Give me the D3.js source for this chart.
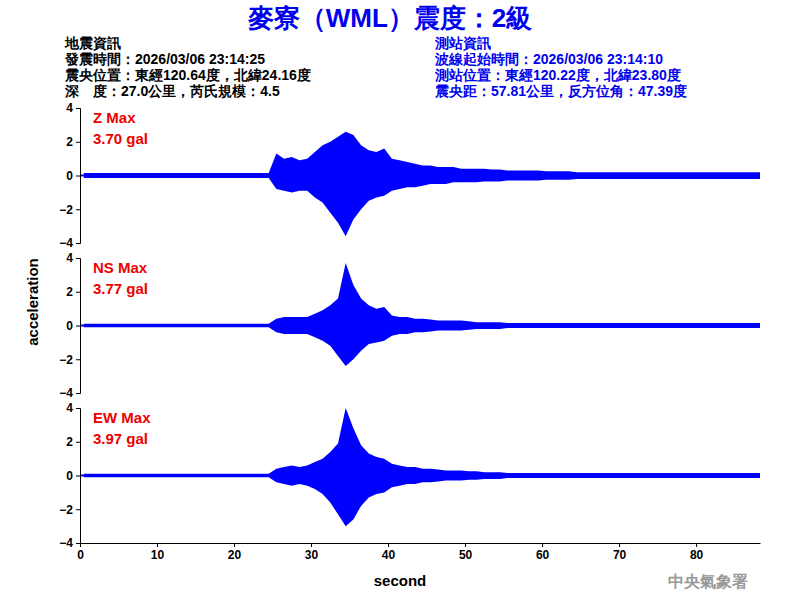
<!DOCTYPE html>
<html><head><meta charset="utf-8">
<script src="https://cdn.jsdelivr.net/npm/d3@7"></script>
<style>body{margin:0;background:#fff}text{font-family:"Liberation Sans",Arial,sans-serif}</style>
</head><body><svg id="c" width="800" height="600"></svg>
<script>
// envelope per second (0..88 s): upper and lower peak acceleration, gal
const seconds = d3.range(0, 89);
const zUpper = [0.15,0.15,0.15,0.15,0.15,0.15,0.15,0.15,0.15,0.15,0.15,0.15,0.15,0.15,0.15,0.15,0.15,0.15,0.15,0.15,0.15,0.15,0.15,0.15,0.15,
  1.3,1.0,1.1,0.9,1.0,1.4,1.8,2.0,2.3,2.6,2.4,1.8,1.5,1.4,1.6,1.0,0.9,0.8,0.7,0.6,0.6,0.5,0.5,0.5,0.4,0.4,0.4,0.4,0.35,0.35,
  0.3,0.3,0.3,0.3,0.3,0.25,0.25,0.25,0.25,0.2,0.2,0.2,0.2,0.2,0.2,0.2,0.2,0.2,0.2,0.2,0.2,0.2,0.2,0.2,0.2,0.2,0.2,0.2,0.2,0.2,0.2,0.2,0.2,0.2];
const zLower = [-0.15,-0.15,-0.15,-0.15,-0.15,-0.15,-0.15,-0.15,-0.15,-0.15,-0.15,-0.15,-0.15,-0.15,-0.15,-0.15,-0.15,-0.15,-0.15,-0.15,-0.15,-0.15,-0.15,-0.15,-0.15,
  -0.8,-0.9,-1.0,-0.9,-0.9,-1.3,-1.6,-2.2,-2.8,-3.6,-2.6,-2.0,-1.5,-1.3,-1.2,-0.9,-0.8,-0.7,-0.7,-0.6,-0.5,-0.5,-0.5,-0.4,-0.4,-0.4,-0.4,-0.35,-0.35,-0.35,
  -0.3,-0.3,-0.3,-0.3,-0.3,-0.25,-0.25,-0.25,-0.25,-0.2,-0.2,-0.2,-0.2,-0.2,-0.2,-0.2,-0.2,-0.2,-0.2,-0.2,-0.2,-0.2,-0.2,-0.2,-0.2,-0.2,-0.2,-0.2,-0.2,-0.2,-0.2,-0.2,-0.2,-0.2];
const nsUpper = [0.1,0.1,0.1,0.1,0.1,0.1,0.1,0.1,0.1,0.1,0.1,0.1,0.1,0.1,0.1,0.1,0.1,0.1,0.1,0.1,0.1,0.1,0.1,0.1,0.1,
  0.4,0.5,0.5,0.5,0.5,0.7,0.9,1.2,1.6,3.7,2.4,1.6,1.2,1.0,1.1,0.6,0.5,0.5,0.4,0.4,0.35,0.3,0.3,0.3,0.3,0.25,0.2,0.2,0.2,0.2,
  0.15,0.15,0.15,0.15,0.15,0.15,0.15,0.15,0.15,0.15,0.15,0.15,0.15,0.15,0.15,0.15,0.15,0.15,0.15,0.15,0.15,0.15,0.15,0.15,0.15,0.15,0.15,0.15,0.15,0.15,0.15,0.15,0.15,0.15];
const nsLower = [-0.1,-0.1,-0.1,-0.1,-0.1,-0.1,-0.1,-0.1,-0.1,-0.1,-0.1,-0.1,-0.1,-0.1,-0.1,-0.1,-0.1,-0.1,-0.1,-0.1,-0.1,-0.1,-0.1,-0.1,-0.1,
  -0.4,-0.5,-0.5,-0.5,-0.5,-0.7,-0.9,-1.2,-1.8,-2.4,-2.0,-1.5,-1.1,-1.0,-0.9,-0.6,-0.5,-0.5,-0.4,-0.4,-0.35,-0.3,-0.3,-0.3,-0.3,-0.25,-0.2,-0.2,-0.2,-0.2,
  -0.15,-0.15,-0.15,-0.15,-0.15,-0.15,-0.15,-0.15,-0.15,-0.15,-0.15,-0.15,-0.15,-0.15,-0.15,-0.15,-0.15,-0.15,-0.15,-0.15,-0.15,-0.15,-0.15,-0.15,-0.15,-0.15,-0.15,-0.15,-0.15,-0.15,-0.15,-0.15,-0.15,-0.15];
const ewUpper = [0.1,0.1,0.1,0.1,0.1,0.1,0.1,0.1,0.1,0.1,0.1,0.1,0.1,0.1,0.1,0.1,0.1,0.1,0.1,0.1,0.1,0.1,0.1,0.1,0.1,
  0.4,0.5,0.6,0.5,0.6,0.8,1.0,1.4,1.9,4.0,2.8,1.8,1.3,1.1,1.0,0.7,0.6,0.5,0.5,0.4,0.4,0.35,0.3,0.3,0.3,0.25,0.25,0.2,0.2,0.2,
  0.15,0.15,0.15,0.15,0.15,0.15,0.15,0.15,0.15,0.15,0.15,0.15,0.15,0.15,0.15,0.15,0.15,0.15,0.15,0.15,0.15,0.15,0.15,0.15,0.15,0.15,0.15,0.15,0.15,0.15,0.15,0.15,0.15,0.15];
const ewLower = [-0.1,-0.1,-0.1,-0.1,-0.1,-0.1,-0.1,-0.1,-0.1,-0.1,-0.1,-0.1,-0.1,-0.1,-0.1,-0.1,-0.1,-0.1,-0.1,-0.1,-0.1,-0.1,-0.1,-0.1,-0.1,
  -0.4,-0.5,-0.6,-0.5,-0.6,-0.8,-1.1,-1.6,-2.3,-3.0,-2.6,-1.8,-1.3,-1.1,-1.0,-0.7,-0.6,-0.5,-0.5,-0.4,-0.4,-0.35,-0.3,-0.3,-0.3,-0.25,-0.25,-0.2,-0.2,-0.2,
  -0.15,-0.15,-0.15,-0.15,-0.15,-0.15,-0.15,-0.15,-0.15,-0.15,-0.15,-0.15,-0.15,-0.15,-0.15,-0.15,-0.15,-0.15,-0.15,-0.15,-0.15,-0.15,-0.15,-0.15,-0.15,-0.15,-0.15,-0.15,-0.15,-0.15,-0.15,-0.15,-0.15,-0.15];
const channels = ["Z Max", "NS Max", "EW Max"];
const maxLabels = ["3.70 gal", "3.77 gal", "3.97 gal"];
const yTicks = [4, 2, 0, -2, -4];
const xTicks = [0, 10, 20, 30, 40, 50, 60, 70, 80];
const infoLeft = ["地震資訊", "發震時間：2026/03/06 23:14:25", "震央位置：東經120.64度，北緯24.16度", "深　度：27.0公里，芮氏規模：4.5"];
const infoRight = ["測站資訊", "波線起始時間：2026/03/06 23:14:10", "測站位置：東經120.22度，北緯23.80度", "震央距：57.81公里，反方位角：47.39度"];

const svg = d3.select("#c");
const x = d3.scaleLinear().domain([0, 88.3]).range([80, 760]);
const panelTops = [108, 258, 408];
const ups = [zUpper, nsUpper, ewUpper], lows = [zLower, nsLower, ewLower];

svg.append("text").attr("x", 390).attr("y", 27).attr("text-anchor", "middle")
  .attr("fill", "#0000ee").attr("font-size", 26).attr("font-weight", "bold").text("麥寮（WML）震度：2級");
infoLeft.forEach((t, i) => svg.append("text").attr("x", 65).attr("y", 48 + i * 16)
  .attr("font-size", 14).attr("font-weight", "bold").attr("fill", "#000").text(t));
infoRight.forEach((t, i) => svg.append("text").attr("x", 435).attr("y", 48 + i * 16)
  .attr("font-size", 14).attr("font-weight", "bold").attr("fill", "#0000ee").text(t));

panelTops.forEach((top, k) => {
  const y = d3.scaleLinear().domain([-4, 4]).range([top + 135, top]);
  const g = svg.append("g");
  g.append("path").datum(seconds)
    .attr("d", d3.area().x(d => x(Math.min(d + 0.5, 88.3))).y0(d => y(lows[k][d])).y1(d => y(ups[k][d])))
    .attr("fill", "#0000ff");
  g.append("line").attr("x1", x(0)).attr("x2", 760).attr("y1", y(0)).attr("y2", y(0))
    .attr("stroke", "#0000ff").attr("stroke-width", 2);
  const ax = svg.append("g").attr("transform", "translate(80,0)")
    .call(d3.axisLeft(y).tickValues(yTicks).tickSize(4).tickFormat(d3.format("d")));
  ax.selectAll("text").attr("font-size", 12).attr("font-weight", "bold").attr("fill", "#000");
  ax.select(".domain").attr("stroke", "#000");
  svg.append("text").attr("x", 93).attr("y", top + 15).attr("fill", "#ee0000")
    .attr("font-size", 15).attr("font-weight", "bold").text(channels[k]);
  svg.append("text").attr("x", 93).attr("y", top + 36).attr("fill", "#ee0000")
    .attr("font-size", 15).attr("font-weight", "bold").text(maxLabels[k]);
});

const xa = svg.append("g").attr("transform", "translate(0,543)")
  .call(d3.axisBottom(x).tickValues(xTicks).tickSize(4).tickSizeOuter(0));
xa.selectAll("text").attr("font-size", 12).attr("font-weight", "bold").attr("fill", "#000");
svg.append("text").attr("x", 400).attr("y", 586).attr("text-anchor", "middle")
  .attr("font-size", 15).attr("font-weight", "bold").text("second");
svg.append("text").attr("transform", "translate(38,302) rotate(-90)").attr("text-anchor", "middle")
  .attr("font-size", 15).attr("font-weight", "bold").text("acceleration");
svg.append("text").attr("x", 748).attr("y", 587).attr("text-anchor", "end").attr("fill", "#999")
  .attr("font-size", 16).attr("font-weight", "bold").attr("font-family", "Noto Sans CJK TC").text("中央氣象署");
</script></body></html>
